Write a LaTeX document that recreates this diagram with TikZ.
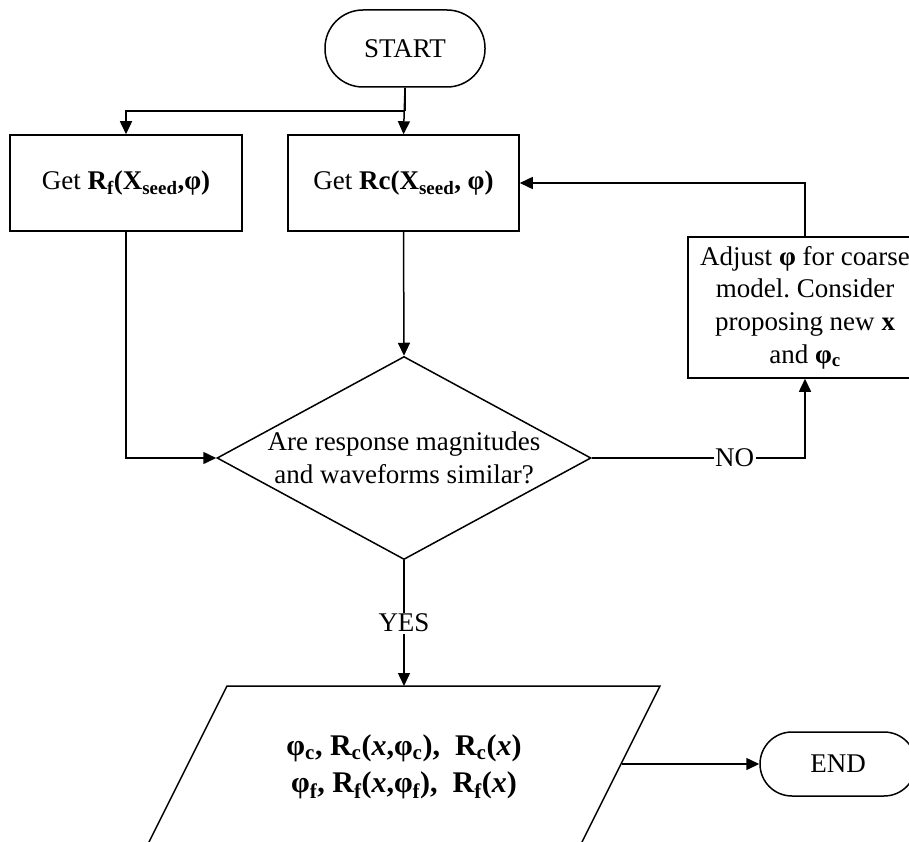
\documentclass[tikz,border=0pt]{standalone}
\usepackage{fontspec}
\setmainfont{Liberation Serif}
\usetikzlibrary{arrows.meta,shapes.geometric}
\frenchspacing
\begin{document}
\begin{tikzpicture}[x=1pt,y=-1pt,
  txt/.style={font=\fontsize{27}{32.6}\selectfont},
  base/.style={txt, draw, line width=1.5pt, inner sep=0pt, align=center},
  conn/.style={line width=1.5pt, -{Triangle[length=13pt,width=12pt]}},
  plain/.style={line width=1.5pt},
  lbl/.style={txt, fill=white, inner sep=1.5pt}]
\useasboundingbox (0,0) rectangle (909,842);
\clip (0,0) rectangle (909,842);

% nodes
\node[base, minimum width=160pt, minimum height=77pt, rounded corners=38pt] (start) at (405,48.5) {START};
\node[base, minimum width=232pt, minimum height=96pt] (rf) at (126,183) {Get \textbf{R\textsubscript{f}(X\textsubscript{seed},φ)}};
\node[base, minimum width=231pt, minimum height=96pt] (rc) at (403.5,183) {Get \textbf{Rc(X\textsubscript{seed}, φ)}};
\node[base, minimum width=234pt, minimum height=141pt] (adj) at (805,307.5) {Adjust \textbf{φ} for coarse\\model. Consider\\proposing new \textbf{x}\\and \textbf{φ\textsubscript{c}}};
\node[draw, line width=1.5pt, diamond, minimum width=374pt, minimum height=203pt, inner sep=0pt] (dec) at (404,458) {};
\node[txt, align=center, inner sep=0pt] (dectext) at (404,458) {Are response magnitudes\\and waveforms similar?};
\node[base, minimum width=156pt, minimum height=64pt, rounded corners=32pt] (end) at (838,764) {END};

% parallelogram (output)
\coordinate (p1) at (227,686);
\coordinate (p2) at (660,686);
\coordinate (p3) at (573,860);
\coordinate (p4) at (140,860);
\draw[plain, line join=miter] (p1) -- (p2) -- (p3) -- (p4) -- cycle;
\node[font=\fontsize{30}{37}\selectfont, align=center, inner sep=0pt] (out) at (404,767)
  {\textbf{φ\textsubscript{c}, R\textsubscript{c}(\textit{x},φ\textsubscript{c}),\ \ R\textsubscript{c}(\textit{x})}\\
   \textbf{φ\textsubscript{f}, R\textsubscript{f}(\textit{x},φ\textsubscript{f}),\ \ R\textsubscript{f}(\textit{x})}};
\coordinate (ptop) at (404,686);
\coordinate (pright) at (622,764);

% connectors
\coordinate (split) at (405,111);
\draw[conn] (start.south) -- (rc.north);
\draw[plain] (start.south) -- (split);
\draw[conn] (split) -| (rf.north);
\draw[conn] (rf.south) |- (dec.west);
\draw[conn] (rc.south) -- (dec.north);
\draw[conn] (dec.east) -| node[lbl, pos=0.335] (no) {NO} (adj.south);
\draw[conn] (adj.north) |- (rc.east);
\draw[conn] (dec.south) -- node[lbl] (yes) {YES} (ptop);
\draw[conn] (pright) -- (end.west);
\end{tikzpicture}
\end{document}
